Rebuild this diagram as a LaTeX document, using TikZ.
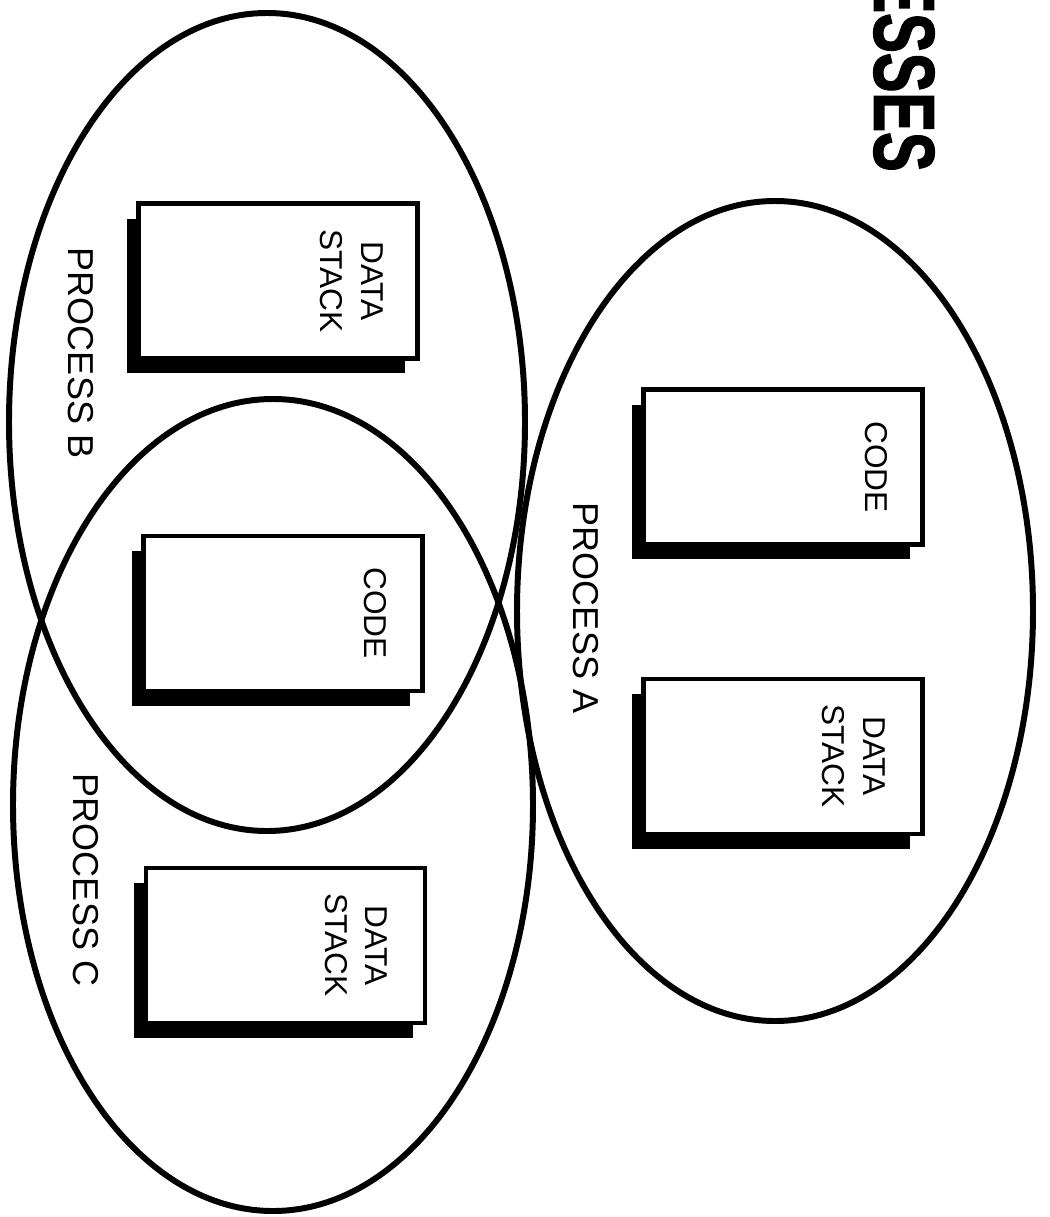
\documentclass[tikz,border=0pt]{standalone}
\usepackage{fontspec}
\setmainfont{Liberation Sans}
\newfontfamily\headfont[FakeStretch=0.69,FakeBold=1.5]{Liberation Sans}
\usetikzlibrary{positioning, shadows}

\begin{document}
\begin{tikzpicture}[
    x=0.02cm, y=-0.02cm,
    node distance=3.46cm,
    segment/.style={draw, line width=2.4pt, fill=white, inner sep=0pt,
        minimum width=5.58cm, minimum height=3.1cm,
        drop shadow={shadow xshift=-0.24cm, shadow yshift=-0.3cm, opacity=1, fill=black}},
    segtext/.style={rotate=-90, anchor=north, align=center, inner sep=0pt,
        font=\fontsize{18}{23.3}\selectfont},
    proclabel/.style={rotate=-90, inner sep=0pt, font=\fontsize{20.5}{24}\selectfont},
    heading/.style={rotate=-90, inner sep=0pt, font=\headfont\bfseries\fontsize{49}{50}\selectfont},
    procline/.style={line width=3.4pt},
]
\useasboundingbox (0,0) rectangle (1049,1217);

% Process boundaries
\draw[procline] (267,422) ellipse [x radius=258, y radius=409];   % B
\draw[procline] (273,805) ellipse [x radius=260, y radius=406];   % C
\draw[procline] (775,611) ellipse [x radius=258, y radius=410];   % A

% Title, running off the top edge
\node[heading, anchor=east] (title) at (904,172) {ESSES};

% Left column: B data, shared code, C data
\node[segment] (bstack) at (278,281) {};
\node[segment, below=of bstack, xshift=0.1cm] (shcode) {};
\node[segment, below=of shcode, xshift=0.05cm] (cstack) {};

% Right column: A code and data
\node[segment] (acode) at (783,467) {};
\node[segment, below=2.6cm of acode] (astack) {};

% Segment texts
\node[segtext] (bstackt) at ([xshift=-0.72cm]bstack.east) {DATA\\STACK};
\node[segtext] (shcodet) at ([xshift=-0.76cm]shcode.east) {CODE};
\node[segtext] (cstackt) at ([xshift=-0.78cm]cstack.east) {DATA\\STACK};
\node[segtext] (acodet)  at ([xshift=-0.74cm]acode.east)  {CODE};
\node[segtext] (astackt) at ([xshift=-0.78cm]astack.east) {DATA\\STACK};

% Process names
\node[proclabel] (procb) at (80.5,353) {PROCESS B};
\node[proclabel] (proca) at (586,608) {PROCESS A};
\node[proclabel] (procc) at (86,880) {PROCESS C};

\end{tikzpicture}
\end{document}
